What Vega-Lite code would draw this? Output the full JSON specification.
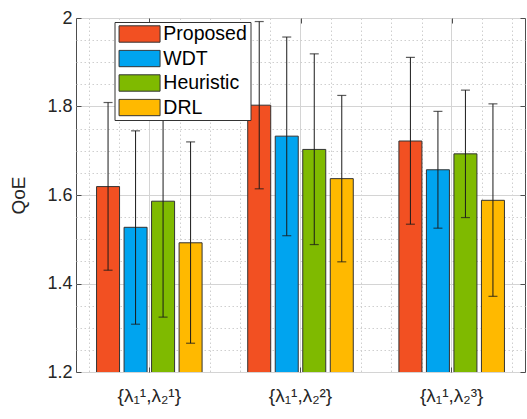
{
  "$schema": "https://vega.github.io/schema/vega-lite/v6.json",
  "width": 449,
  "height": 354,
  "autosize": {"type": "none"},
  "padding": {"left": 76, "top": 18, "right": 2, "bottom": 47},
  "config": {
    "font": "Liberation Sans",
    "view": {"stroke": "#4d4d4d", "strokeWidth": 1}
  },
  "data": {
    "values": [
      {"group": "{λ₁¹,λ₂¹}", "method": "Proposed", "qoe": 1.619, "lo": 1.430, "hi": 1.809},
      {"group": "{λ₁¹,λ₂¹}", "method": "WDT", "qoe": 1.527, "lo": 1.308, "hi": 1.745},
      {"group": "{λ₁¹,λ₂¹}", "method": "Heuristic", "qoe": 1.586, "lo": 1.324, "hi": 1.848},
      {"group": "{λ₁¹,λ₂¹}", "method": "DRL", "qoe": 1.492, "lo": 1.265, "hi": 1.720},
      {"group": "{λ₁¹,λ₂²}", "method": "Proposed", "qoe": 1.803, "lo": 1.614, "hi": 1.992},
      {"group": "{λ₁¹,λ₂²}", "method": "WDT", "qoe": 1.733, "lo": 1.508, "hi": 1.957},
      {"group": "{λ₁¹,λ₂²}", "method": "Heuristic", "qoe": 1.703, "lo": 1.488, "hi": 1.919},
      {"group": "{λ₁¹,λ₂²}", "method": "DRL", "qoe": 1.637, "lo": 1.449, "hi": 1.825},
      {"group": "{λ₁¹,λ₂³}", "method": "Proposed", "qoe": 1.722, "lo": 1.534, "hi": 1.911},
      {"group": "{λ₁¹,λ₂³}", "method": "WDT", "qoe": 1.657, "lo": 1.525, "hi": 1.789},
      {"group": "{λ₁¹,λ₂³}", "method": "Heuristic", "qoe": 1.693, "lo": 1.549, "hi": 1.837},
      {"group": "{λ₁¹,λ₂³}", "method": "DRL", "qoe": 1.588, "lo": 1.371, "hi": 1.806}
    ]
  },
  "layer": [
    {
      "data": {"values": [{}]},
      "mark": {"type": "point", "opacity": 0},
      "encoding": {
        "x": {"datum": 1, "type": "quantitative", "scale": {"domain": [0.514, 3.483], "nice": false, "zero": false},
          "axis": {"orient": "bottom", "values": [0.6, 0.8, 1.2, 1.4, 1.6, 1.8, 2.2, 2.4, 2.6, 2.8, 3.2, 3.4], "grid": true, "gridDash": [1.5, 2.5], "gridColor": "#cfcfcf", "labels": false, "ticks": false, "domain": false, "title": null}},
        "y": {"datum": 1.5, "type": "quantitative", "scale": {"domain": [1.2, 2], "nice": false, "zero": false},
          "axis": {"orient": "left", "values": [1.25, 1.3, 1.35, 1.45, 1.5, 1.55, 1.65, 1.7, 1.75, 1.85, 1.9, 1.95], "grid": true, "gridDash": [1.5, 2.5], "gridColor": "#cfcfcf", "labels": false, "ticks": false, "domain": false, "title": null}}
      }
    },
    {
      "data": {"values": [{}]},
      "mark": {"type": "point", "opacity": 0},
      "encoding": {
        "x": {"datum": 1, "type": "quantitative", "scale": {"domain": [0.514, 3.483], "nice": false, "zero": false},
          "axis": {"orient": "top", "values": [1, 2, 3], "grid": false, "labels": false, "ticks": true, "tickSize": -5, "tickColor": "#4d4d4d", "domain": false, "title": null}},
        "y": {"datum": 1.5, "type": "quantitative", "scale": {"domain": [1.2, 2], "nice": false, "zero": false},
          "axis": {"orient": "right", "values": [1.2, 1.4, 1.6, 1.8, 2], "grid": false, "labels": false, "ticks": true, "tickSize": -5, "tickColor": "#4d4d4d", "domain": false, "title": null}}
      }
    },
    {
      "encoding": {
        "x": {"field": "group", "type": "nominal", "sort": null,
          "scale": {"paddingInner": 0.03, "paddingOuter": 0},
          "axis": {"orient": "bottom", "title": null, "labelAngle": 0, "labelFontSize": 19, "labelColor": "#262626", "labelPadding": 19, "ticks": true, "tickSize": -5, "tickColor": "#4d4d4d", "domain": false, "grid": true, "gridColor": "#d4d4d4", "bandPosition": 0.5}},
        "xOffset": {"field": "method", "type": "nominal", "sort": ["Proposed", "WDT", "Heuristic", "DRL"],
          "scale": {"paddingInner": 0.164, "paddingOuter": 0.747}}
      },
      "layer": [
        {
          "mark": {"type": "bar", "stroke": "#333333", "strokeWidth": 1, "clip": true},
          "encoding": {
            "y": {"field": "qoe", "type": "quantitative", "scale": {"domain": [1.2, 2], "nice": false, "zero": false},
              "axis": {"orient": "left", "values": [1.2, 1.4, 1.6, 1.8, 2], "format": "~g", "labelFontSize": 18, "labelColor": "#262626", "labelPadding": 9, "ticks": true, "tickSize": -5, "tickColor": "#4d4d4d", "domain": false, "grid": true, "gridColor": "#d4d4d4", "title": "QoE", "titleFontSize": 19, "titleFontWeight": "normal", "titleColor": "#262626", "titlePadding": 18}},
            "color": {"field": "method", "type": "nominal",
              "scale": {"domain": ["Proposed", "WDT", "Heuristic", "DRL"], "range": ["#F25022", "#00A4EF", "#7FBA00", "#FFB900"]},
              "legend": {"orient": "none", "legendX": 38.5, "legendY": 4, "title": null,
                "symbolType": "M-2.5,-1L2.5,-1L2.5,1L-2.5,1Z", "symbolSize": 269,
                "symbolOffset": 12.3,
                "symbolStrokeColor": "#333333", "symbolStrokeWidth": 1, "symbolOpacity": 1,
                "labelFontSize": 19.5, "labelColor": "#000000", "labelOffset": 14,
                "clipHeight": 18, "rowPadding": 4.5, "padding": 3, "strokeColor": "#333333", "fillColor": "#ffffff"}}
          }
        },
        {
          "mark": {"type": "rule", "color": "#1a1a1a", "strokeWidth": 1},
          "encoding": {
            "y": {"field": "lo", "type": "quantitative"},
            "y2": {"field": "hi"}
          }
        },
        {
          "mark": {"type": "tick", "color": "#1a1a1a", "size": 9, "thickness": 1.2},
          "encoding": {"y": {"field": "lo", "type": "quantitative"}}
        },
        {
          "mark": {"type": "tick", "color": "#1a1a1a", "size": 9, "thickness": 1.2},
          "encoding": {"y": {"field": "hi", "type": "quantitative"}}
        }
      ]
    }
  ],
  "resolve": {"scale": {"x": "independent", "y": "independent"}}
}
